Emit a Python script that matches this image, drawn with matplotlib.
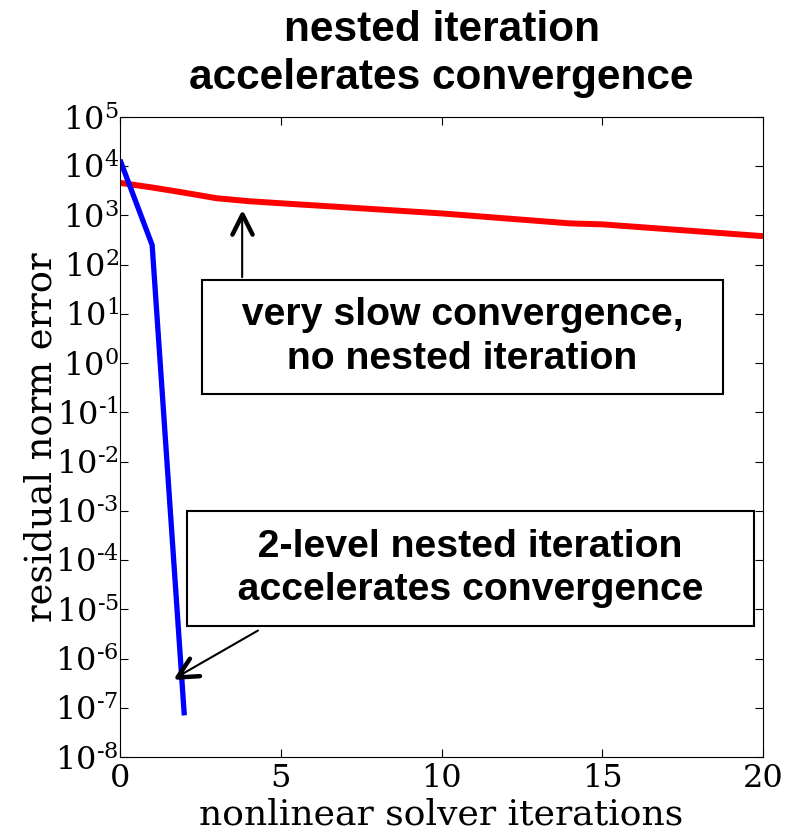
import numpy as np
import matplotlib
matplotlib.use('Agg')
from matplotlib import pyplot as plt
from matplotlib.ticker import FixedLocator, NullLocator
from matplotlib.markers import MarkerStyle
from matplotlib.path import Path
from matplotlib.transforms import Affine2D

# data
iters_slow = [0, 1, 2, 3, 4, 5, 10, 14, 15, 20]
resid_slow = [4600, 3700, 2900, 2240, 1950, 1770, 1100, 690, 660, 380]

iters_nested = [0, 1, 2]
resid_nested = [1.35e4, 250, 7e-8]

title = 'nested iteration\naccelerates convergence'
note_slow = '  very slow convergence,  \n no nested iteration '
note_nested = '   2-level nested iteration   \n   accelerates convergence   '

plt.rcParams['mathtext.fontset'] = 'dejavuserif'
plt.rcParams['font.family'] = 'DejaVu Serif'

fig = plt.figure(figsize=(7.97, 8.33), dpi=100)
ax = fig.add_axes([120 / 797, 1 - 757 / 833, 643 / 797, 640 / 833])

ax.plot(iters_slow, resid_slow, color='red', lw=4.3, solid_capstyle='butt')
ax.plot(iters_nested, resid_nested, color='blue', lw=3.8, solid_capstyle='butt')

ax.set_yscale('log')
ax.set_xlim(0, 20)
ax.set_ylim(1e-8, 1e5)
exps = np.arange(-8, 6)
ax.yaxis.set_major_locator(FixedLocator(10.0 ** exps))
ax.yaxis.set_minor_locator(NullLocator())
ax.set_yticklabels([r'$10^{\text{%d}}$' % e for e in exps])
ax.set_xticks([0, 5, 10, 15, 20])
ax.tick_params(direction='in', top=True, right=True, labelsize=23, length=6, pad=4)
ax.tick_params(axis='y', pad=1)

ax.set_xlabel('nonlinear solver iterations', fontsize=26, labelpad=3)
ax.set_ylabel('residual norm error', fontsize=26.5, labelpad=-3)

ax.set_title(title, fontsize=30.5, fontweight='bold', family='Liberation Sans',
             pad=20, linespacing=1.26)

box = dict(boxstyle='square,pad=0.45', fc='white', ec='black', lw=1.5)
txt = dict(fontsize=28.3, fontweight='bold', family='Liberation Sans',
           ha='center', va='center', linespacing=1.26, zorder=5)

# boxed notes
ax.text(10.65, 3.4, note_slow, bbox=box, **txt)
ax.text(10.9, 6.7e-5, note_nested, bbox=box, **txt)

# thin arrow shafts from the boxes to the tips
tip_slow = (3.8, 1.05e3)
tip_nested = (1.77, 4.2e-7)
ax.annotate('', xy=tip_slow, xytext=(3.8, 56),
            arrowprops=dict(arrowstyle='-', lw=1.5, shrinkA=0, shrinkB=0))
ax.annotate('', xy=tip_nested, xytext=(4.29, 3.7e-6),
            arrowprops=dict(arrowstyle='-', lw=1.5, shrinkA=0, shrinkB=0))

# bold chevron arrow heads
chevron = Path([(-0.5, -1.0), (0.0, 0.0), (0.5, -1.0)],
               [Path.MOVETO, Path.LINETO, Path.LINETO])
head_up = MarkerStyle(chevron, fillstyle='none', capstyle='round', joinstyle='round')
head_nested = MarkerStyle(chevron, fillstyle='none', capstyle='round', joinstyle='round',
                          transform=Affine2D().rotate_deg(120))
ax.plot(*tip_slow, marker=head_up, ms=29, mew=3.2, color='black', zorder=6)
ax.plot(*tip_nested, marker=head_nested, ms=29, mew=3.2, color='black', zorder=6)

fig.savefig('out.png', dpi=100)
